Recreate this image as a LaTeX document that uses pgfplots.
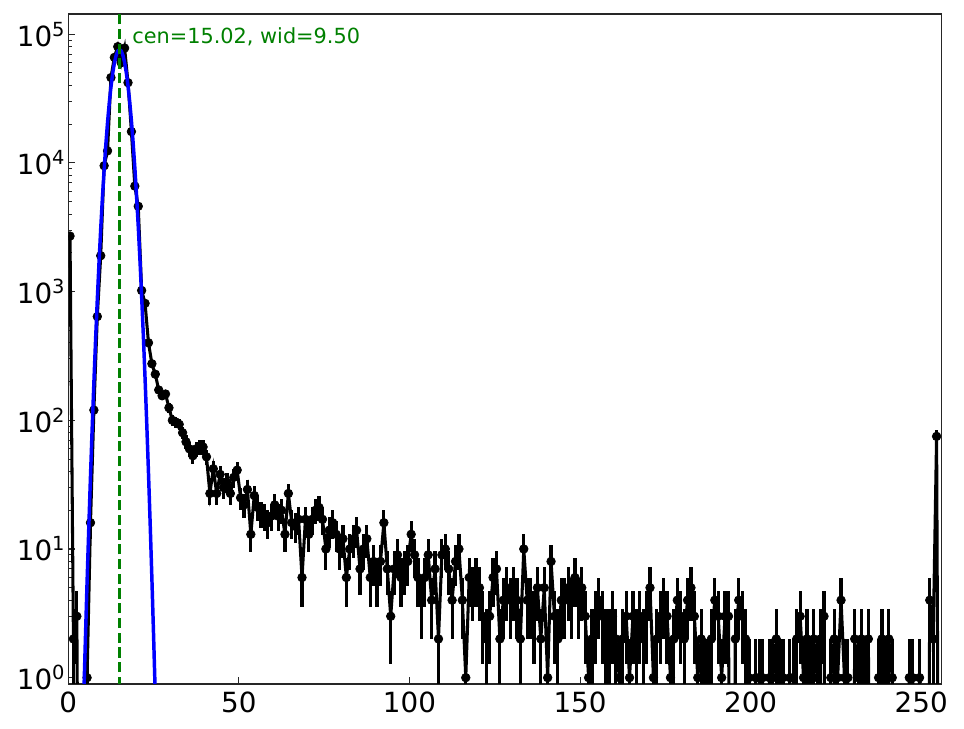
\documentclass[border=0pt]{standalone}
\usepackage{fontspec}
\setmainfont{DejaVu Sans}
\usepackage{pgfplots}
\usepackage{pgfplotstable}
\pgfplotsset{compat=1.18}
\definecolor{mplgreen}{RGB}{0,128,0}
\definecolor{mplblue}{RGB}{0,0,255}
\newcommand\pw[1]{10\raisebox{0.36em}{\fontsize{14}{14}\selectfont #1}}
\pgfplotsset{every error bar/.append style={line width=2.3pt, draw=black, solid}}

\pgfplotstableread[row sep=\\]{
i y\\
0 2700\\ 1 2\\ 2 3\\ 3 0\\ 4 0\\ 5 1\\ 6 16\\ 7 120\\ 8 640\\ 9 1900\\
10 9500\\ 11 12400\\ 12 46000\\ 13 66000\\ 14 80000\\ 15 60000\\ 16 78000\\ 17 42000\\ 18 17500\\ 19 6600\\
20 4600\\ 21 1020\\ 22 810\\ 23 400\\ 24 275\\ 25 228\\ 26 172\\ 27 155\\ 28 160\\ 29 125\\
30 100\\ 31 97\\ 32 93\\ 33 80\\ 34 68\\ 35 60\\ 36 53\\ 37 60\\ 38 62\\ 39 62\\
40 52\\ 41 27\\ 42 42\\ 43 27\\ 44 38\\ 45 30\\ 46 33\\ 47 27\\ 48 36\\ 49 41\\
50 25\\ 51 22\\ 52 29\\ 53 13\\ 54 26\\ 55 21\\ 56 19\\ 57 18\\ 58 16\\ 59 18\\
60 22\\ 61 18\\ 62 20\\ 63 13\\ 64 27\\ 65 16\\ 66 15\\ 67 17\\ 68 6\\ 69 17\\
70 13\\ 71 17\\ 72 20\\ 73 21\\ 74 17\\ 75 10\\ 76 14\\ 77 16\\ 78 13\\ 79 10\\
80 12\\ 81 6\\ 82 10\\ 83 12\\ 84 14\\ 85 7\\ 86 10\\ 87 12\\ 88 6\\ 89 8\\
90 6\\ 91 8\\ 92 16\\ 93 7\\ 94 3\\ 95 7\\ 96 9\\ 97 6\\ 98 7\\ 99 8\\
100 13\\ 101 9\\ 102 6\\ 103 4\\ 104 6\\ 105 9\\ 106 4\\ 107 7\\ 108 2\\ 109 9\\
110 10\\ 111 7\\ 112 4\\ 113 8\\ 114 10\\ 115 4\\ 116 1\\ 117 6\\ 118 5\\ 119 6\\
120 5\\ 121 3\\ 122 2\\ 123 3\\ 124 6\\ 125 7\\ 126 2\\ 127 4\\ 128 5\\ 129 4\\
130 5\\ 131 4\\ 132 2\\ 133 10\\ 134 4\\ 135 4\\ 136 3\\ 137 5\\ 138 2\\ 139 5\\
140 1\\ 141 8\\ 142 3\\ 143 2\\ 144 4\\ 145 4\\ 146 5\\ 147 4\\ 148 6\\ 149 4\\
150 5\\ 151 3\\ 152 1\\ 153 2\\ 154 3\\ 155 4\\ 156 3\\ 157 2\\ 158 2\\ 159 3\\
160 2\\ 161 1\\ 162 2\\ 163 3\\ 164 1\\ 165 3\\ 166 2\\ 167 3\\ 168 2\\ 169 3\\
170 5\\ 171 1\\ 172 2\\ 173 3\\ 174 4\\ 175 3\\ 176 1\\ 177 2\\ 178 4\\ 179 3\\
180 2\\ 181 4\\ 182 5\\ 183 3\\ 184 1\\ 185 2\\ 186 1\\ 187 1\\ 188 2\\ 189 4\\
190 3\\ 191 1\\ 192 3\\ 193 3\\ 194 0\\ 195 2\\ 196 4\\ 197 3\\ 198 2\\ 199 1\\
200 0\\ 201 1\\ 202 1\\ 203 1\\ 204 0\\ 205 1\\ 206 1\\ 207 2\\ 208 1\\ 209 1\\
210 0\\ 211 1\\ 212 1\\ 213 2\\ 214 3\\ 215 1\\ 216 2\\ 217 1\\ 218 2\\ 219 1\\
220 2\\ 221 3\\ 222 0\\ 223 1\\ 224 2\\ 225 1\\ 226 4\\ 227 1\\ 228 1\\ 229 0\\
230 2\\ 231 1\\ 232 2\\ 233 1\\ 234 2\\ 235 0\\ 236 0\\ 237 1\\ 238 2\\ 239 1\\
240 2\\ 241 1\\ 242 0\\ 243 0\\ 244 0\\ 245 0\\ 246 1\\ 247 1\\ 248 0\\ 249 1\\
250 0\\ 251 0\\ 252 4\\ 253 2\\ 254 75\\ 255 0\\
}\hist

\pgfplotstableread[row sep=\\]{
x f\\
4.0 0.21\\ 4.5 0.66\\ 5.0 1.95\\ 5.5 5.5\\ 6.0 14.5\\ 6.5 36.6\\ 7.0 87.2\\ 7.5 197\\
8.0 425\\ 8.5 866\\ 9.0 1675\\ 9.5 3076\\ 10.0 5351\\ 10.5 8846\\ 11.0 13870\\ 11.5 20630\\
12.0 29100\\ 12.5 38950\\ 13.0 49460\\ 13.5 59590\\ 14.0 68120\\ 14.5 73860\\ 15.0 76000\\
15.5 74180\\ 16.0 68690\\ 16.5 60340\\ 17.0 50300\\ 17.5 39780\\ 18.0 29840\\ 18.5 21240\\
19.0 14350\\ 19.5 9188\\ 20.0 5583\\ 20.5 3221\\ 21.0 1762\\ 21.5 914\\ 22.0 451\\
22.5 211\\ 23.0 93.3\\ 23.5 39.2\\ 24.0 15.6\\ 24.5 5.9\\ 25.0 2.1\\ 25.5 0.72\\ 26.0 0.23\\
}\fit

\begin{document}
\begin{tikzpicture}
\begin{axis}[
  at={(0,0)}, anchor=south west,
  scale only axis, width=628.85pt, height=482.4pt,
  xmin=0, xmax=256,
  ymode=log, ymin=0.893, ymax=143500,
  axis line style={line width=1pt, black!85},
  tick pos=left, tick align=inside,
  xtick={0,50,100,150,200,250},
  minor xtick={},
  ytick={1,10,100,1000,10000,100000},
  yticklabels={\pw{0},\pw{1},\pw{2},\pw{3},\pw{4},\pw{5}},
  minor ytick={2,3,4,5,6,7,8,9,20,30,40,50,60,70,80,90,200,300,400,500,600,700,800,900,2000,3000,4000,5000,6000,7000,8000,9000,20000,30000,40000,50000,60000,70000,80000,90000},
  major tick length=5pt, minor tick length=3pt,
  every major tick/.style={black!85, line width=0.8pt},
  every minor tick/.style={black!85, line width=0.7pt},
  xticklabel style={font=\fontsize{20}{24}\selectfont, inner sep=0pt, yshift=-5.5pt},
  yticklabel style={font=\fontsize{20}{24}\selectfont, inner sep=0pt, xshift=-2.5pt},
  /pgf/number format/assume math mode=true,
  clip marker paths=true,
]
\addplot[draw=black, line width=2.2pt, mark=*, mark size=3.1pt,
  mark options={fill=black, draw=black, line width=0.5pt},
  error bars/.cd, y dir=both, y explicit, error mark=none,
  error bar style={line width=2.3pt, draw=black, solid}]
  table[x expr={\thisrow{i}+0.5}, y expr={max(\thisrow{y},1e-4)},
        y error plus expr={sqrt(\thisrow{y})},
        y error minus expr={\thisrow{y}>1 ? sqrt(\thisrow{y}) : 0.9*\thisrow{y}}] {\hist};
\addplot[mplblue, line width=2.5pt, no markers] table[x=x, y=f] {\fit};
\addplot[mplgreen, line width=2pt, dash pattern=on 7.4pt off 3.2pt, no markers]
  coordinates {(15.02,0.5) (15.02,300000)};
\node[anchor=base west, text=mplgreen, font=\fontsize{15}{18}\selectfont, inner sep=0pt]
  at (axis cs:18.7,83900) {cen=15.02, wid=9.50};
\end{axis}
\pgfresetboundingbox
\useasboundingbox (-49.18pt,-32.4pt) rectangle (644.9pt,492.48pt);
\end{tikzpicture}
\end{document}
